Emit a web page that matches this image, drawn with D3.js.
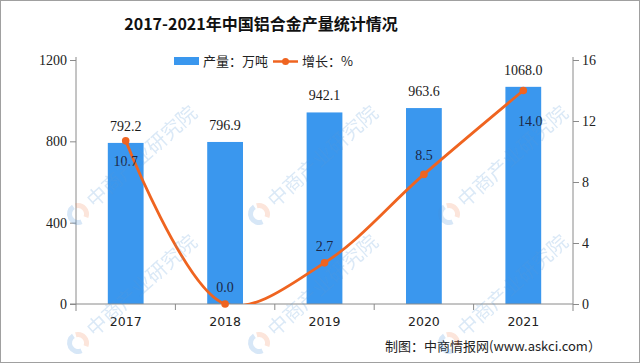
<!DOCTYPE html>
<html>
<head>
<meta charset="utf-8">
<script src="https://cdn.jsdelivr.net/npm/d3@7"></script>
<style>
  body { margin: 0; background: #fff; }
  svg { display: block; }
</style>
</head>
<body>
<svg id="chart"></svg>
<script>
// data
var years = ["2017", "2018", "2019", "2020", "2021"];
var output = [792.2, 796.9, 942.1, 963.6, 1068.0];
var growth = [10.7, 0.0, 2.7, 8.5, 14.0];
var leftTicks = [0, 400, 800, 1200];
var rightTicks = [0, 4, 8, 12, 16];
var titleText = "2017-2021年中国铝合金产量统计情况";
var legendBar = "产量：万吨";
var legendLine = "增长：%";
var sourceText = "制图：中商情报网(www.askci.com）";
var watermarkText = "中商产业研究院";

var width = 640, height = 363;
var marginLeft = 76, marginRight = 67, marginTop = 60, marginBottom = 59;

var barColor = "#3a97ee";
var lineColor = "#ef6420";
var axisColor = "#8a8a8a";

var svg = d3.select("#chart")
    .attr("width", width)
    .attr("height", height)
    .attr("viewBox", [0, 0, width, height]);

// frame
svg.append("rect")
    .attr("x", 0.5).attr("y", 0.5)
    .attr("width", width - 1).attr("height", height - 1)
    .attr("fill", "#fff")
    .attr("stroke", "#a0a0a0");

var x = d3.scaleBand()
    .domain(years)
    .range([marginLeft, width - marginRight]);

var yLeft = d3.scaleLinear()
    .domain([0, 1200])
    .range([height - marginBottom, marginTop]);

var yRight = d3.scaleLinear()
    .domain([0, 16])
    .range([height - marginBottom, marginTop]);

var barWidth = x.bandwidth() * 0.36;
var baseY = yLeft(0);

// bars
svg.append("g")
    .selectAll("rect")
    .data(years)
    .join("rect")
    .attr("x", (d, i) => x(d) + (x.bandwidth() - barWidth) / 2)
    .attr("y", (d, i) => yLeft(output[i]))
    .attr("width", barWidth)
    .attr("height", (d, i) => baseY - yLeft(output[i]))
    .attr("fill", barColor);

// bar value labels
svg.append("g")
    .selectAll("text")
    .data(years)
    .join("text")
    .attr("x", d => x(d) + x.bandwidth() / 2)
    .attr("y", (d, i) => yLeft(output[i]) - 12)
    .attr("text-anchor", "middle")
    .attr("font-family", "'Liberation Serif', serif")
    .attr("font-size", 14)
    .attr("fill", "#1a1a1a")
    .text((d, i) => output[i].toFixed(1));

// left axis
var axisL = svg.append("g")
    .attr("transform", `translate(${marginLeft},0)`)
    .call(d3.axisLeft(yLeft).tickValues(leftTicks).tickFormat(d3.format("d")).tickSize(6).tickPadding(3).tickSizeOuter(0));
axisL.select(".domain").attr("d", `M0,${marginTop - 3}V${baseY + 7}`);

// right axis
var axisR = svg.append("g")
    .attr("transform", `translate(${width - marginRight},0)`)
    .call(d3.axisRight(yRight).tickValues(rightTicks).tickFormat(d3.format("d")).tickSize(6).tickPadding(3).tickSizeOuter(0));
axisR.select(".domain").attr("d", `M0,${marginTop - 3}V${baseY + 7}`);

[axisL, axisR].forEach(g => {
    g.selectAll("path, line").attr("stroke", axisColor);
    g.selectAll("text")
        .attr("font-family", "'Liberation Serif', serif")
        .attr("font-size", 14)
        .attr("fill", "#222");
});

// x axis
var axisX = svg.append("g")
    .attr("transform", `translate(0,${baseY})`)
    .call(d3.axisBottom(x).tickSize(0).tickPadding(13));
axisX.select(".domain").attr("d", `M${marginLeft - 6},0H${width - marginRight}`).attr("stroke", axisColor);
axisX.selectAll("text")
    .attr("font-family", "'DejaVu Sans', sans-serif")
    .attr("font-size", 12.5)
    .attr("fill", "#222");
// tick marks between categories
axisX.append("g")
    .selectAll("line")
    .data(years.slice(1))
    .join("line")
    .attr("x1", d => x(d)).attr("x2", d => x(d))
    .attr("y1", 0).attr("y2", 6)
    .attr("stroke", axisColor);

// growth line (smooth, clipped at the baseline)
svg.append("clipPath")
    .attr("id", "plotClip")
    .append("rect")
    .attr("x", marginLeft).attr("y", 0)
    .attr("width", width - marginLeft - marginRight)
    .attr("height", baseY);

var line = d3.line()
    .curve(d3.curveCatmullRom.alpha(0.5))
    .x((d, i) => x(years[i]) + x.bandwidth() / 2)
    .y(d => yRight(d));

svg.append("path")
    .attr("clip-path", "url(#plotClip)")
    .attr("fill", "none")
    .attr("stroke", lineColor)
    .attr("stroke-width", 2.8)
    .attr("stroke-linecap", "round")
    .attr("d", line(growth));

svg.append("g")
    .selectAll("circle")
    .data(growth)
    .join("circle")
    .attr("cx", (d, i) => x(years[i]) + x.bandwidth() / 2)
    .attr("cy", d => yRight(d))
    .attr("r", 3.8)
    .attr("fill", lineColor);

// growth labels: below for 2017 and 2021, above otherwise
var labelDy = [20, -17, -17, -19, 30];
var labelDx = [0, 0, 0, 0, 7];
svg.append("g")
    .selectAll("text")
    .data(growth)
    .join("text")
    .attr("x", (d, i) => x(years[i]) + x.bandwidth() / 2 + labelDx[i])
    .attr("y", (d, i) => yRight(d) + labelDy[i] + 5)
    .attr("text-anchor", "middle")
    .attr("font-family", "'Liberation Serif', serif")
    .attr("font-size", 14)
    .attr("fill", "#1c2846")
    .text(d => d.toFixed(1));

// title
svg.append("text")
    .attr("x", 261)
    .attr("y", 30)
    .attr("text-anchor", "middle")
    .attr("font-family", "'Noto Sans CJK SC', sans-serif")
    .attr("font-weight", "bold")
    .attr("font-size", 16)
    .attr("fill", "#111")
    .text(titleText);

// legend
var legend = svg.append("g").attr("font-family", "'Noto Sans CJK SC', sans-serif").attr("font-size", 13).attr("fill", "#222");
legend.append("rect")
    .attr("x", 174).attr("y", 57)
    .attr("width", 25).attr("height", 8)
    .attr("fill", barColor);
legend.append("text")
    .attr("x", 203).attr("y", 66)
    .text(legendBar);
legend.append("line")
    .attr("x1", 273).attr("x2", 298)
    .attr("y1", 61.5).attr("y2", 61.5)
    .attr("stroke", lineColor)
    .attr("stroke-width", 2.5);
legend.append("circle")
    .attr("cx", 285.5).attr("cy", 61.5)
    .attr("r", 3.5)
    .attr("fill", lineColor);
legend.append("text")
    .attr("x", 302).attr("y", 66)
    .text(legendLine);

// source note
svg.append("text")
    .attr("x", 385)
    .attr("y", 351)
    .attr("font-family", "'Noto Sans CJK SC', sans-serif")
    .attr("font-size", 13)
    .attr("fill", "#222")
    .text(sourceText);

// faint diagonal watermarks (only the ones that fit inside the frame)
var wmCols = [78, 259, 449];
var wmRows = [214, 343];
var wm = svg.append("g").attr("opacity", 0.22).attr("pointer-events", "none");
wmRows.forEach(wy => {
    wmCols.forEach(wx => {
        var g = wm.append("g").attr("transform", `translate(${wx},${wy}) rotate(-42)`);
        g.append("path")
            .attr("d", d3.arc()({ innerRadius: 6, outerRadius: 11, startAngle: Math.PI * 1.1, endAngle: Math.PI * 2.05 }))
            .attr("fill", "#4a90d9");
        g.append("path")
            .attr("d", d3.arc()({ innerRadius: 6, outerRadius: 11, startAngle: Math.PI * 0.15, endAngle: Math.PI * 0.85 }))
            .attr("fill", "#f08a5a");
        g.append("text")
            .attr("x", 16)
            .attr("y", 7)
            .attr("font-family", "'Noto Sans CJK SC', sans-serif")
            .attr("font-size", 20)
            .attr("fill", "#5a9ad8")
            .text(watermarkText);
    });
});
</script>
</body>
</html>
